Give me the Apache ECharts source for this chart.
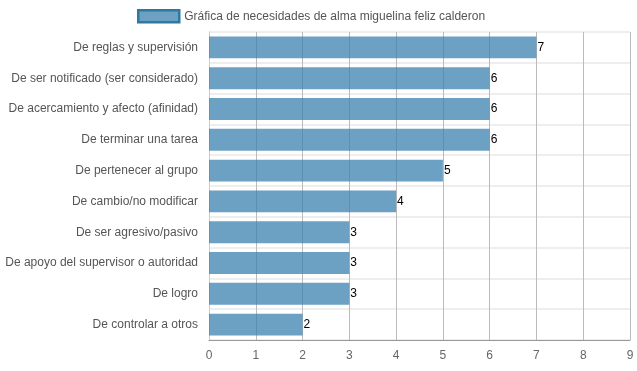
<!DOCTYPE html>
<html><head><meta charset="utf-8">
<script src="https://cdn.jsdelivr.net/npm/echarts@6/dist/echarts.min.js"></script>
<style>html,body{margin:0;padding:0;background:#fff}#c{width:637px;height:371px}</style>
</head><body><div id="c"></div>
<script>
const categories = ["De reglas y supervisión","De ser notificado (ser considerado)","De acercamiento y afecto (afinidad)","De terminar una tarea","De pertenecer al grupo","De cambio/no modificar","De ser agresivo/pasivo","De apoyo del supervisor o autoridad","De logro","De controlar a otros"];
const values = [7,6,6,6,5,4,3,3,3,2];
const xTicks = [0,1,2,3,4,5,6,7,8,9];
const seriesName = "Gráfica de necesidades de alma miguelina feliz calderon";
const chart = echarts.init(document.getElementById('c'));
chart.setOption({
  animation:false,
  textStyle:{fontFamily:'Liberation Sans, Arial, sans-serif'},
  legend:{top:4,left:132,icon:'rect',itemWidth:41,itemHeight:12,itemGap:5,textStyle:{color:'#555',fontSize:12},
    data:[{name:seriesName,itemStyle:{color:'rgba(60,130,175,0.75)',borderColor:'#2f78a0',borderWidth:2.5}}]},
  grid:{left:209,right:7,top:32,bottom:31,containLabel:false},
  xAxis:{type:'value',min:0,max:9,interval:1,
    axisLine:{show:true,lineStyle:{color:'#999'}},axisTick:{show:false},
    axisLabel:{color:'#666',fontSize:12,margin:10,formatter:v=>xTicks.includes(v)?String(v):''},
    splitLine:{show:true,lineStyle:{color:'#bbb',width:1}}},
  yAxis:{type:'category',data:categories,inverse:true,
    axisLine:{show:true,lineStyle:{color:'#ccc'}},axisTick:{show:false},
    axisLabel:{color:'#555',fontSize:12,margin:11},
    splitLine:{show:true,lineStyle:{color:'#eee',width:2}}},
  series:[{name:seriesName,type:'bar',data:values,barCategoryGap:'29%',z:1,
    itemStyle:{color:'rgba(60,130,175,0.75)'},
    label:{show:true,position:'right',distance:1,color:'#000',fontSize:12}}]
});
</script></body></html>
